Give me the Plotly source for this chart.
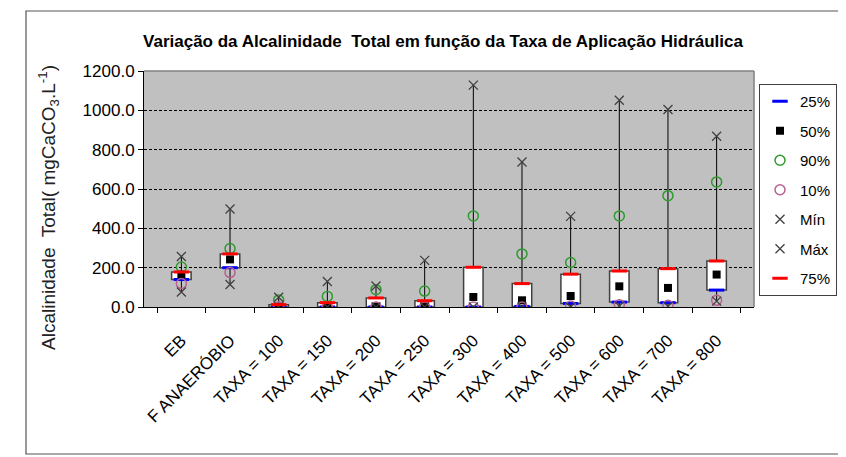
import plotly.graph_objects as go

categories = ["EB", "F ANAERÓBIO", "TAXA = 100", "TAXA = 150", "TAXA = 200",
              "TAXA = 250", "TAXA = 300", "TAXA = 400", "TAXA = 500",
              "TAXA = 600", "TAXA = 700", "TAXA = 800"]
p25 = [140, 200, 0, 0, 0, 0, 0, 3, 18, 25, 22, 86]
p50 = [165, 242, 2, 3, 3, 4, 51, 34, 56, 105, 97, 165]
p90 = [203, 297, 36, 54, 88, 81, 463, 270, 226, 463, 566, 636]
p10 = [119, 175, 0, 0, 0, 0, 0, 0, 5, 12, 9, 34]
vmin = [76, 114, 0, 0, 0, 0, 0, 0, 0, 5, 3, 30]
vmax = [257, 498, 50, 130, 107, 237, 1128, 737, 461, 1051, 1004, 868]
p75 = [178, 270, 12, 22, 46, 32, 202, 119, 167, 183, 195, 234]
y_ticks = [0, 200, 400, 600, 800, 1000, 1200]

FONT = "Arial, Liberation Sans, sans-serif"

# the page body adds an 8px offset; plot area target (screen): x 144..754, y 71..307
OFF = 8
PL, PR, PT, PB = 144, 754, 71, 307
PW, PH = PR - PL, PB - PT


def px(x):
    return (x - PL) / PW


def py(y):
    return (PB - y) / PH


fig = go.Figure()

# whiskers: min -> q1 and q3 -> max
wx, wy = [], []
for c, lo, q1, q3, hi in zip(categories, vmin, p25, p75, vmax):
    wx += [c, c, None, c, c, None]
    wy += [hi, q3, None, q1, lo, None]
fig.add_trace(go.Scatter(x=wx, y=wy, mode="lines", line=dict(color="black", width=1),
                         showlegend=False, hoverinfo="skip", connectgaps=False))

# boxes from 25% to 75%
fig.add_trace(go.Bar(x=categories, y=[b - a for a, b in zip(p25, p75)], base=p25,
                     width=0.4, marker=dict(color="white", line=dict(color="#404040", width=1.5)),
                     showlegend=False, hoverinfo="skip"))

series = [
    ("25%", p25, dict(symbol="line-ew", size=11, line=dict(color="#0000FF", width=3))),
    ("50%", p50, dict(symbol="square", size=8, color="black")),
    ("90%", p90, dict(symbol="circle-open", size=10, color="#2E9B2E", line=dict(width=1.5))),
    ("10%", p10, dict(symbol="circle-open", size=10, color="#B8608F", line=dict(width=1.5))),
    ("Mín", vmin, dict(symbol="x-thin", size=9, color="#404040", line=dict(color="#404040", width=1.3))),
    ("Máx", vmax, dict(symbol="x-thin", size=9, color="#404040", line=dict(color="#404040", width=1.3))),
    ("75%", p75, dict(symbol="line-ew", size=11, line=dict(color="#FF0000", width=3))),
]
for i, (name, vals, mk) in enumerate(series):
    fig.add_trace(go.Scatter(x=categories, y=vals, mode="markers", name=name,
                             marker=mk, legendgroup=str(i)))

fig.update_layout(
    width=846, height=457,
    margin=dict(l=PL - OFF, r=846 - (PR - OFF), t=PT - OFF, b=457 - (PB - OFF), autoexpand=False),
    paper_bgcolor="white", plot_bgcolor="#C0C0C0",
    font=dict(family=FONT, size=15, color="black"),
    title=dict(text="<b>Variação da Alcalinidade  Total em função da Taxa de Aplicação Hidráulica</b>",
               x=px(443), xref="paper", xanchor="center", y=1 - (41 - OFF) / 457, yanchor="middle",
               font=dict(family=FONT, size=17, color="black")),
    showlegend=True,
    legend=dict(x=px(759), xanchor="left", y=py(84), yanchor="top",
                bordercolor="#404040", borderwidth=1, bgcolor="white",
                traceorder="grouped", tracegroupgap=7,
                font=dict(family=FONT, size=15), itemwidth=30),
    bargap=0.6,
)
fig.update_xaxes(type="category", showline=True, linecolor="black", linewidth=1,
                 ticks="outside", ticklen=5, tickcolor="black", tickson="boundaries",
                 tickangle=-45, showgrid=False, zeroline=False, automargin=False,
                 ticklabelstandoff=16,
                 tickfont=dict(family=FONT, size=17, color="black"))
fig.update_yaxes(range=[0, 1200], tickvals=y_ticks, tickformat=".1f",
                 showline=True, linecolor="black", linewidth=1, automargin=False,
                 ticks="outside", ticklen=5, tickcolor="black",
                 showgrid=True, gridcolor="black", gridwidth=1, griddash="3px,2px",
                 zeroline=False, tickfont=dict(family=FONT, size=17, color="black"))

fig.add_annotation(text="Alcalinidade  Total( mgCaCO<sub>3</sub>.L<sup>-1</sup>)",
                   xref="paper", yref="paper", x=px(48), y=py(207),
                   textangle=-90, showarrow=False, xanchor="center", yanchor="middle",
                   font=dict(family=FONT, size=19, color="#222222"))

# plot area top and right border
fig.add_shape(type="line", xref="paper", yref="paper", x0=0, x1=1, y0=1, y1=1,
              line=dict(color="#808080", width=1.5), layer="above")
fig.add_shape(type="line", xref="paper", yref="paper", x0=1, x1=1, y0=0, y1=1,
              line=dict(color="#808080", width=1.5), layer="above")
# chart area border
fig.add_shape(type="rect", xref="paper", yref="paper",
              x0=px(26), x1=px(860), y0=py(454), y1=py(11),
              line=dict(color="#555555", width=1.2), layer="above")

fig.write_html("out.html")
